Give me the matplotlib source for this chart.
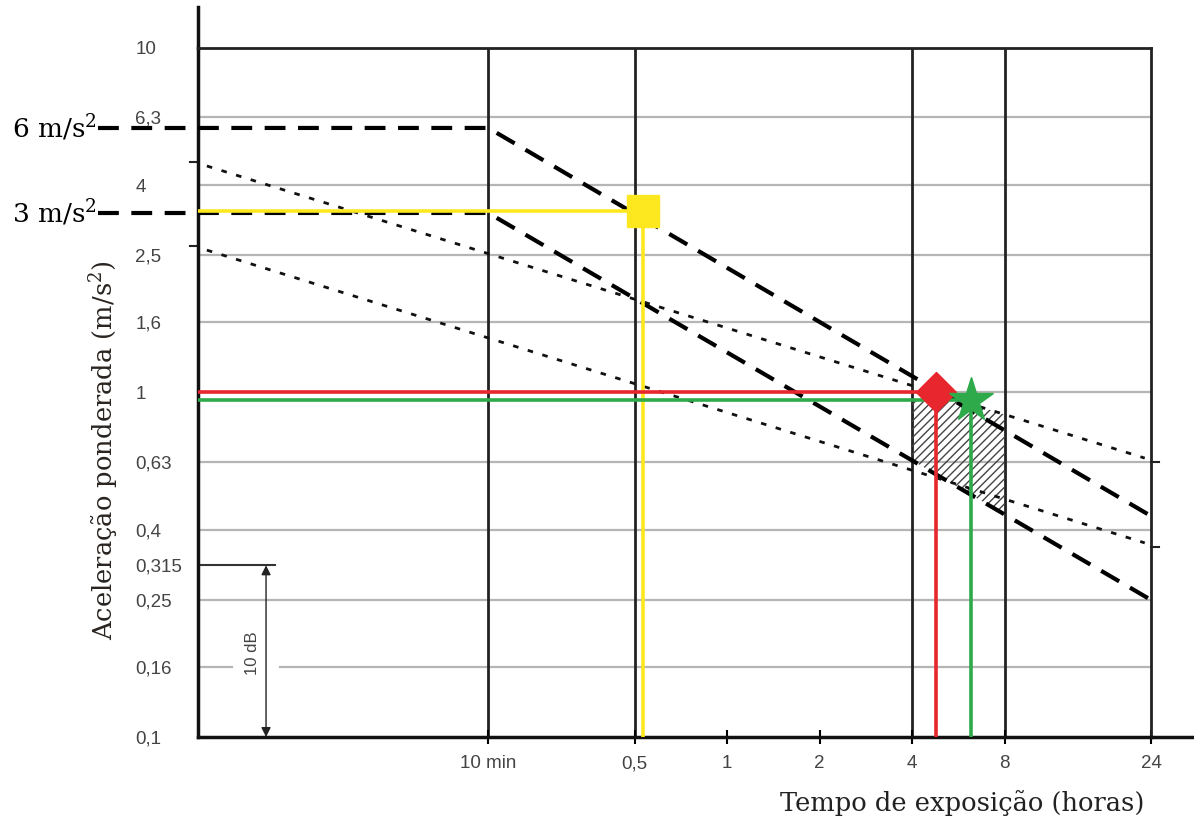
import numpy as np
import matplotlib
matplotlib.use('Agg')
import matplotlib.pyplot as plt
from matplotlib.ticker import NullLocator

plt.rcParams['mathtext.fontset'] = 'dejavuserif'
plt.rcParams['hatch.linewidth'] = 1.0

# Eixos (tempo em horas, aceleracao em m/s2)
t_min, t_max = 0.0189, 24
a_min, a_max = 0.1, 10

t_ticks = [1 / 6, 0.5, 1, 2, 4, 8, 24]
t_labels = ['10 min', '0,5', '1', '2', '4', '8', '24']
t_vlines = [1 / 6, 0.5, 4, 8]

a_ticks = [10, 6.3, 4, 2.5, 1.6, 1, 0.63, 0.4, 0.315, 0.25, 0.16, 0.1]
a_labels = ['10', '6,3', '4', '2,5', '1,6', '1', '0,63', '0,4', '0,315', '0,25', '0,16', '0,1']
a_grid = [6.3, 4, 2.5, 1.6, 1, 0.63, 0.4, 0.25]

# Limites da zona (tracejado grosso)
t_zona = [t_min, 1 / 6, 24]
a_zona_sup = [5.86, 5.86, 0.438]
a_zona_inf = [3.32, 3.32, 0.25]

# Limites pontilhados
t_pont = [0.0202, 22.9]
a_pont_sup = [4.545, 0.645]
a_pont_inf = [2.59, 0.366]
a_marca_esq = [4.67, 2.66]
a_marca_dir = [0.63, 0.355]

# Pontos medidos
t_amarelo, a_amarelo = 0.53, 3.36
t_vermelho, a_vermelho = 4.8, 1.0
t_verde, a_verde = 6.2, 0.95


def reta_log(t, tp, ap):
    # reta em escala log-log entre os pontos dados
    return 10 ** np.interp(np.log10(t), np.log10(tp), np.log10(ap))


fig = plt.figure(figsize=(11.94, 8.23), dpi=100)
ax = fig.add_axes([198 / 1194, 86 / 823, 953 / 1194, 689 / 823])
ax.set_xscale('log')
ax.set_yscale('log')
ax.set_xlim(t_min, t_max)
ax.set_ylim(a_min, a_max)
ax.xaxis.set_minor_locator(NullLocator())
ax.yaxis.set_minor_locator(NullLocator())

# grade
for a in a_grid:
    ax.axhline(a, color='#b5b5b5', lw=1.6, zorder=1)
ytr = ax.get_yaxis_transform()
ax.plot([0, 0.036], [0.16, 0.16], color='#b5b5b5', lw=1.6, transform=ytr, zorder=1)
ax.plot([0.086, 1], [0.16, 0.16], color='#b5b5b5', lw=1.6, transform=ytr, zorder=1)
for t in t_vlines:
    ax.axvline(t, color='#222222', lw=2, zorder=1.5)

# 10 dB
ax.plot([0, 0.081], [0.315, 0.315], color='#333333', lw=1.5, transform=ytr, zorder=2)
ax.annotate('', xy=(0.0714, 0.1), xytext=(0.0714, 0.315), xycoords=ytr,
            arrowprops=dict(arrowstyle='<|-|>', color='#222222', lw=1,
                            mutation_scale=14, shrinkA=0, shrinkB=0), zorder=2)
ax.text(0.057, 0.175, '10 dB', transform=ytr, rotation=90, ha='center', va='center',
        fontsize=12, color='#444444', family='Liberation Sans')

# area hachurada (4 a 8 h)
t_h = np.geomspace(4, 8, 60)
baixo = reta_log(t_h, t_zona[1:], a_zona_inf[1:])
cima = np.minimum(reta_log(t_h, t_pont, a_pont_sup), a_verde)
ax.fill_between(t_h, baixo, cima, facecolor='none', edgecolor='#444444',
                hatch='////', linewidth=0, zorder=2)

# limites
ax.plot(t_zona, a_zona_sup, color='black', lw=3, ls=(0, (5, 3)), zorder=3)
ax.plot(t_zona, a_zona_inf, color='black', lw=3, ls=(0, (5, 3)), zorder=3)
ax.plot(t_pont, a_pont_sup, color='#111111', lw=2, ls=(0, (2, 3.5)), zorder=3)
ax.plot(t_pont, a_pont_inf, color='#111111', lw=2, ls=(0, (2, 3.5)), zorder=3)
for a in a_marca_esq:
    ax.plot([-0.008, 0], [a, a], color='#222222', lw=1.5, transform=ytr, clip_on=False)
for a in a_marca_dir:
    ax.plot([1, 1.008], [a, a], color='#222222', lw=1.5, transform=ytr, clip_on=False)

# tracejado fora do grafico + rotulos
for a, txt in [(a_zona_sup[0], '6 m/s$^2$'), (a_zona_inf[0], '3 m/s$^2$')]:
    ax.plot([-0.105, 0], [a, a], color='black', lw=3, ls=(0, (5, 3)),
            transform=ytr, clip_on=False)
    ax.text(-0.106, a, txt, transform=ytr, ha='right', va='center',
            fontsize=19, family='DejaVu Serif', color='black')

# linhas coloridas e marcadores
for t, a, cor, mk, ms in [(t_amarelo, a_amarelo, '#fde81f', 's', 23),
                          (t_vermelho, a_vermelho, '#e8262d', 'D', 20),
                          (t_verde, a_verde, '#2eaa4a', '*', 33)]:
    ax.plot([t_min, t], [a, a], color=cor, lw=2.6, zorder=4)
    ax.plot([t, t], [a_min, a], color=cor, lw=2.6, zorder=4)
    ax.plot([t], [a], marker=mk, color=cor, ms=ms, mec=cor, zorder=5, clip_on=False)

# eixos
for s in ['left', 'bottom']:
    ax.spines[s].set_linewidth(2.5)
    ax.spines[s].set_color('#111111')
for s in ['top', 'right']:
    ax.spines[s].set_linewidth(2)
    ax.spines[s].set_color('#222222')
ax.plot([0, 0], [1, 1.06], color='#111111', lw=2.5, transform=ax.transAxes, clip_on=False)
ax.plot([1, 1.045], [0, 0], color='#111111', lw=2.5, transform=ax.transAxes, clip_on=False)

ax.set_xticks(t_ticks, t_labels)
ax.set_yticks(a_ticks, a_labels)
ax.tick_params(axis='x', direction='inout', length=10, width=1.5, pad=8,
               labelsize=13.5, labelcolor='#444444')
ax.tick_params(axis='y', length=0, pad=45, labelsize=13.5, labelcolor='#444444')
for lab in ax.get_xticklabels() + ax.get_yticklabels():
    lab.set_family('Liberation Sans')
for lab in ax.get_yticklabels():
    lab.set_ha('left')

ax.text(-0.098, 0.4165, 'Aceleração ponderada (m/s$^2$)', transform=ax.transAxes,
        rotation=90, ha='center', va='center', fontsize=18.5, family='DejaVu Serif',
        color='#2a2420')
fig.text(0.806, 0.0243, 'Tempo de exposição (horas)', ha='center', va='center',
         fontsize=18.5, family='DejaVu Serif', color='#222222')

fig.savefig('out.png', dpi=100)
